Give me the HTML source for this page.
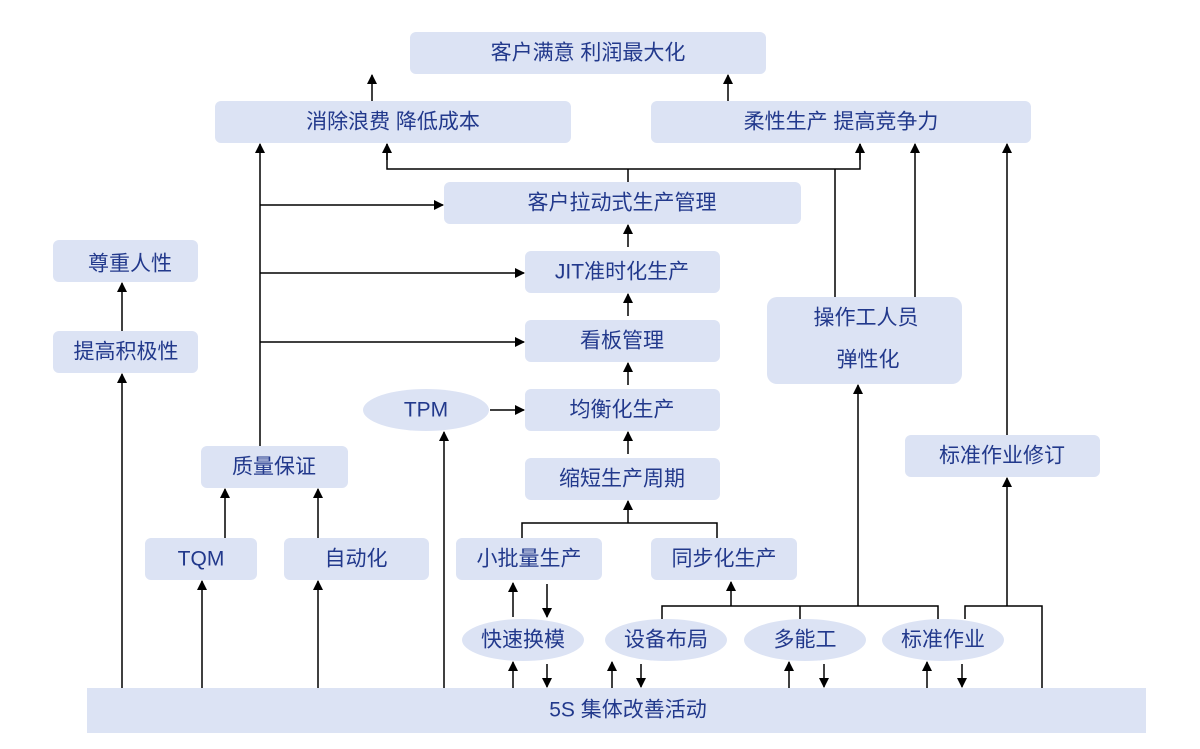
<!DOCTYPE html>
<html><head><meta charset="utf-8"><style>
html,body{margin:0;padding:0;background:#fff;}
svg text{font-family:"Liberation Sans","Noto Sans CJK SC",sans-serif;font-size:21px;fill:#22398c;text-anchor:middle;dominant-baseline:central;}
</style></head><body>
<svg width="1200" height="744" viewBox="0 0 1200 744" xmlns="http://www.w3.org/2000/svg">
<defs><marker id="a" markerWidth="10" markerHeight="10" refX="9" refY="5" orient="auto" markerUnits="userSpaceOnUse"><path d="M0,0 L10,5 L0,10 z" fill="#000"/></marker></defs>
<g fill="#dce3f4">
<rect x="410" y="32" width="356" height="42" rx="6"/>
<rect x="215" y="101" width="356" height="42" rx="6"/>
<rect x="651" y="101" width="380" height="42" rx="6"/>
<rect x="444" y="182" width="357" height="42" rx="6"/>
<rect x="525" y="251" width="195" height="42" rx="6"/>
<rect x="525" y="320" width="195" height="42" rx="6"/>
<rect x="525" y="389" width="195" height="42" rx="6"/>
<rect x="525" y="458" width="195" height="42" rx="6"/>
<rect x="456" y="538" width="146" height="42" rx="6"/>
<rect x="651" y="538" width="146" height="42" rx="6"/>
<rect x="53" y="240" width="145" height="42" rx="6"/>
<rect x="53" y="331" width="145" height="42" rx="6"/>
<rect x="201" y="446" width="147" height="42" rx="6"/>
<rect x="145" y="538" width="112" height="42" rx="6"/>
<rect x="284" y="538" width="145" height="42" rx="6"/>
<rect x="767" y="297" width="195" height="87" rx="10"/>
<rect x="905" y="435" width="195" height="42" rx="6"/>
<rect x="87" y="688" width="1059" height="45"/>
<ellipse cx="426" cy="410" rx="63" ry="21"/>
<ellipse cx="523" cy="640" rx="61" ry="21"/>
<ellipse cx="666" cy="640" rx="61" ry="21"/>
<ellipse cx="805" cy="640" rx="61" ry="21"/>
<ellipse cx="943" cy="640" rx="61" ry="21"/>
</g>
<g stroke="#000" stroke-width="1.5" fill="none">
<line x1="372" y1="101" x2="372" y2="75" marker-end="url(#a)"/>
<line x1="728" y1="101" x2="728" y2="75" marker-end="url(#a)"/>
<line x1="260" y1="446" x2="260" y2="144" marker-end="url(#a)"/>
<line x1="260" y1="205" x2="443" y2="205" marker-end="url(#a)"/>
<line x1="260" y1="273" x2="524" y2="273" marker-end="url(#a)"/>
<line x1="260" y1="342" x2="524" y2="342" marker-end="url(#a)"/>
<polyline points="387,144 387,169 860,169 860,144"/>
<line x1="387" y1="160" x2="387" y2="144" marker-end="url(#a)"/>
<line x1="860" y1="160" x2="860" y2="144" marker-end="url(#a)"/>
<line x1="628" y1="182" x2="628" y2="169"/>
<line x1="835" y1="297" x2="835" y2="169"/>
<line x1="915" y1="297" x2="915" y2="144" marker-end="url(#a)"/>
<line x1="1007" y1="435" x2="1007" y2="144" marker-end="url(#a)"/>
<line x1="628" y1="247" x2="628" y2="225" marker-end="url(#a)"/>
<line x1="628" y1="316" x2="628" y2="294" marker-end="url(#a)"/>
<line x1="628" y1="385" x2="628" y2="363" marker-end="url(#a)"/>
<line x1="628" y1="454" x2="628" y2="432" marker-end="url(#a)"/>
<polyline points="522,538 522,523 717,523 717,538"/>
<line x1="628" y1="523" x2="628" y2="501" marker-end="url(#a)"/>
<line x1="490" y1="410" x2="524" y2="410" marker-end="url(#a)"/>
<line x1="122" y1="688" x2="122" y2="374" marker-end="url(#a)"/>
<line x1="122" y1="331" x2="122" y2="283" marker-end="url(#a)"/>
<line x1="202" y1="688" x2="202" y2="581" marker-end="url(#a)"/>
<line x1="318" y1="688" x2="318" y2="581" marker-end="url(#a)"/>
<line x1="225" y1="538" x2="225" y2="489" marker-end="url(#a)"/>
<line x1="318" y1="538" x2="318" y2="489" marker-end="url(#a)"/>
<line x1="444" y1="688" x2="444" y2="432" marker-end="url(#a)"/>
<line x1="513" y1="617" x2="513" y2="583" marker-end="url(#a)"/>
<line x1="547" y1="584" x2="547" y2="617" marker-end="url(#a)"/>
<polyline points="662,619 662,606 938,606 938,619"/>
<line x1="800" y1="606" x2="800" y2="619"/>
<line x1="731" y1="606" x2="731" y2="582" marker-end="url(#a)"/>
<line x1="858" y1="606" x2="858" y2="385" marker-end="url(#a)"/>
<polyline points="965,619 965,606 1042,606 1042,688"/>
<line x1="1007" y1="606" x2="1007" y2="478" marker-end="url(#a)"/>
<line x1="513" y1="688" x2="513" y2="662" marker-end="url(#a)"/>
<line x1="547" y1="664" x2="547" y2="687" marker-end="url(#a)"/>
<line x1="612" y1="688" x2="612" y2="662" marker-end="url(#a)"/>
<line x1="641" y1="664" x2="641" y2="687" marker-end="url(#a)"/>
<line x1="789" y1="688" x2="789" y2="662" marker-end="url(#a)"/>
<line x1="824" y1="664" x2="824" y2="687" marker-end="url(#a)"/>
<line x1="927" y1="688" x2="927" y2="662" marker-end="url(#a)"/>
<line x1="962" y1="664" x2="962" y2="687" marker-end="url(#a)"/>
</g>
<text x="588" y="53">客户满意 利润最大化</text>
<text x="393" y="122">消除浪费 降低成本</text>
<text x="841" y="122">柔性生产 提高竞争力</text>
<text x="622" y="203">客户拉动式生产管理</text>
<text x="622" y="272">JIT准时化生产</text>
<text x="622" y="341">看板管理</text>
<text x="622" y="410">均衡化生产</text>
<text x="622" y="479">缩短生产周期</text>
<text x="529" y="559">小批量生产</text>
<text x="724" y="559">同步化生产</text>
<text x="130" y="264">尊重人性</text>
<text x="126" y="352">提高积极性</text>
<text x="274" y="467">质量保证</text>
<text x="201" y="559">TQM</text>
<text x="356" y="559">自动化</text>
<text x="866" y="318">操作工人员</text>
<text x="868" y="360">弹性化</text>
<text x="1002" y="456">标准作业修订</text>
<text x="426" y="410">TPM</text>
<text x="523" y="640">快速换模</text>
<text x="666" y="640">设备布局</text>
<text x="805" y="640">多能工</text>
<text x="943" y="640">标准作业</text>
<text x="628" y="710">5S   集体改善活动</text>
</svg>
</body></html>
